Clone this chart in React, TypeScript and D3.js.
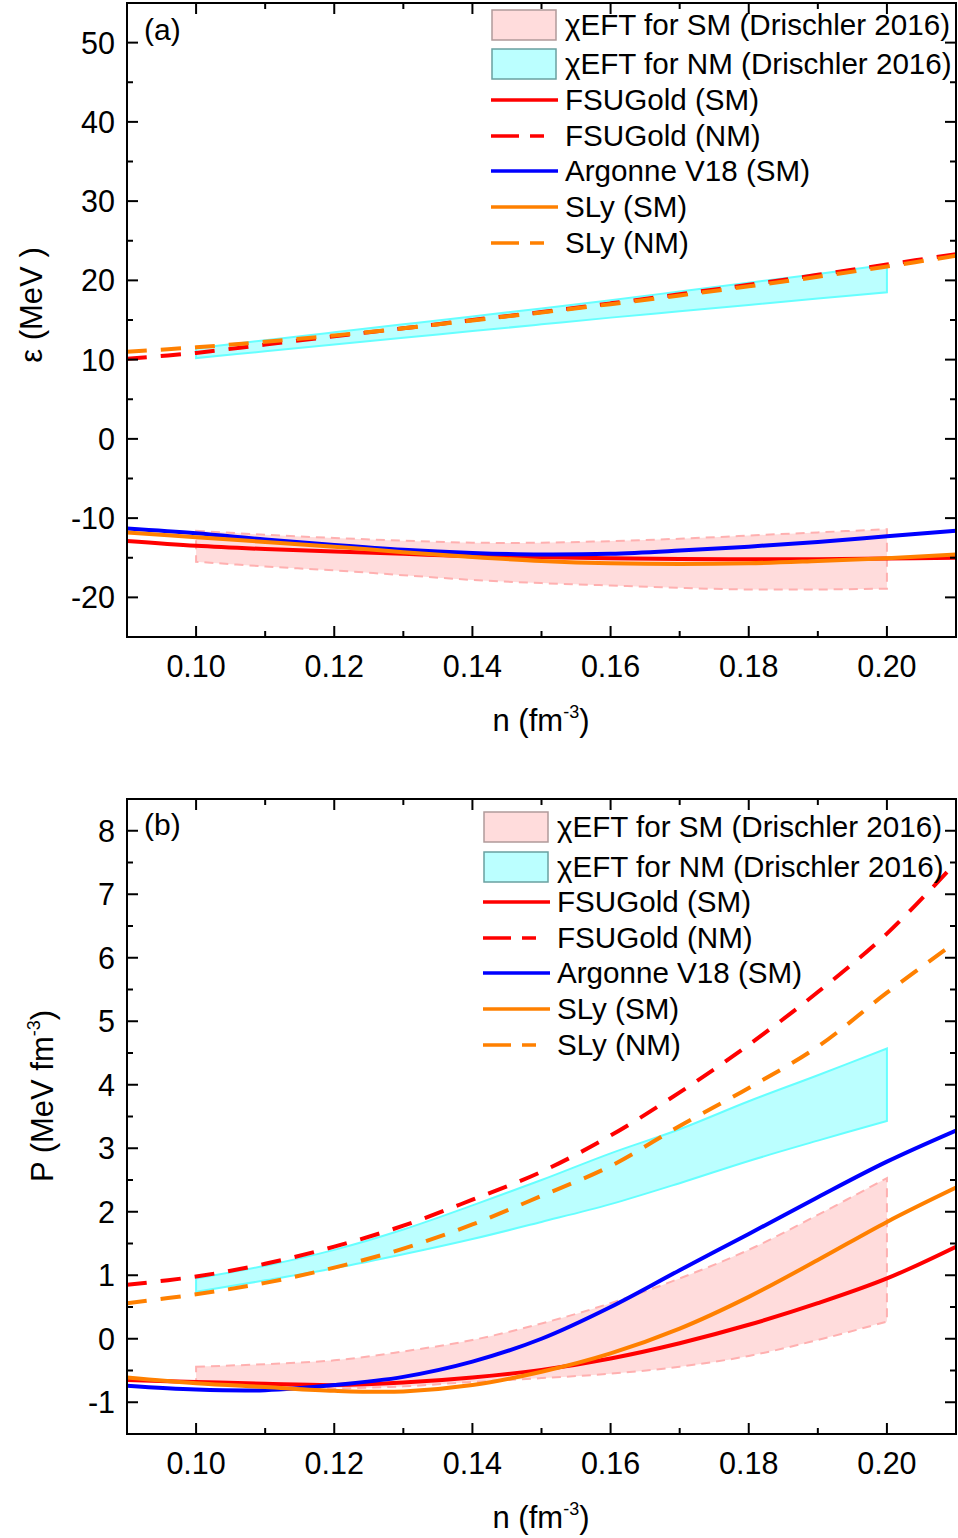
import React from 'react';
import * as d3 from 'd3';

// ---------- data ----------
const density = [0.09, 0.10, 0.11, 0.12, 0.13, 0.14, 0.15, 0.16, 0.17, 0.18, 0.19, 0.20, 0.21];
const bandDensity = [0.10, 0.11, 0.12, 0.13, 0.14, 0.15, 0.16, 0.17, 0.18, 0.19, 0.20];

// panel (a): energy per particle (MeV)
const eFsuSM = [-12.9, -13.5, -13.9, -14.2, -14.5, -14.8, -14.95, -15.05, -15.15, -15.2, -15.2, -15.1, -15.0];
const eFsuNM = [10.1, 10.85, 11.9, 12.95, 13.95, 15.0, 16.0, 17.1, 18.25, 19.45, 20.7, 22.0, 23.3];
const eAv18SM = [-11.3, -11.9, -12.7, -13.4, -14.0, -14.4, -14.6, -14.5, -14.1, -13.6, -13.0, -12.3, -11.6];
const eSlySM = [-11.8, -12.4, -13.0, -13.6, -14.3, -14.9, -15.4, -15.7, -15.8, -15.7, -15.4, -15.05, -14.6];
const eSlyNM = [11.0, 11.55, 12.25, 13.05, 13.95, 14.95, 15.95, 17.0, 18.1, 19.25, 20.45, 21.75, 23.1];
const eSMBandLo = [-15.5, -16.1, -16.6, -17.2, -17.8, -18.2, -18.5, -18.8, -19.0, -19.0, -18.9];
const eSMBandHi = [-11.6, -12.1, -12.5, -12.85, -13.1, -13.1, -12.9, -12.6, -12.2, -11.8, -11.4];
const eNMBandLo = [10.2, 11.05, 11.9, 12.75, 13.6, 14.45, 15.3, 16.1, 16.9, 17.7, 18.5];
const eNMBandHi = [11.45, 12.45, 13.45, 14.45, 15.45, 16.45, 17.5, 18.6, 19.7, 20.8, 22.0];

// panel (b): pressure (MeV fm^-3)
const pFsuSM = [-0.65, -0.68, -0.71, -0.73, -0.69, -0.61, -0.49, -0.31, -0.07, 0.22, 0.56, 0.95, 1.45];
const pFsuNM = [0.85, 0.98, 1.18, 1.45, 1.78, 2.19, 2.63, 3.2, 3.88, 4.63, 5.46, 6.38, 7.5];
const pAv18SM = [-0.74, -0.80, -0.81, -0.73, -0.60, -0.36, 0.0, 0.50, 1.08, 1.65, 2.23, 2.79, 3.28];
const pSlySM = [-0.61, -0.70, -0.76, -0.82, -0.83, -0.73, -0.52, -0.23, 0.16, 0.66, 1.24, 1.84, 2.38];
const pSlyNM = [0.56, 0.70, 0.88, 1.12, 1.42, 1.8, 2.25, 2.72, 3.35, 3.95, 4.6, 5.45, 6.25];
const pSMBandLo = [-0.68, -0.75, -0.78, -0.75, -0.68, -0.62, -0.55, -0.44, -0.27, -0.02, 0.27];
const pSMBandHi = [-0.44, -0.40, -0.34, -0.2, -0.02, 0.24, 0.56, 0.95, 1.40, 1.95, 2.53];
const pNMBandLo = [0.74, 0.92, 1.11, 1.33, 1.57, 1.84, 2.12, 2.45, 2.8, 3.12, 3.43];
const pNMBandHi = [0.95, 1.15, 1.40, 1.72, 2.1, 2.5, 2.92, 3.3, 3.74, 4.15, 4.57];

const xTicks = [0.10, 0.12, 0.14, 0.16, 0.18, 0.20];
const xMinorTicks = [0.11, 0.13, 0.15, 0.17, 0.19];
const eTicks = [-20, -10, 0, 10, 20, 30, 40, 50];
const eMinorTicks = [-15, -5, 5, 15, 25, 35, 45];
const pTicks = [-1, 0, 1, 2, 3, 4, 5, 6, 7, 8];
const pMinorTicks = [-0.5, 0.5, 1.5, 2.5, 3.5, 4.5, 5.5, 6.5, 7.5];

const legendLabels = [
  'χEFT for SM (Drischler 2016)',
  'χEFT for NM (Drischler 2016)',
  'FSUGold (SM)',
  'FSUGold (NM)',
  'Argonne V18 (SM)',
  'SLy (SM)',
  'SLy (NM)',
];

// ---------- styles ----------
const FONT = '"Liberation Sans", Arial, Helvetica, sans-serif';
const RED = '#ff0000';
const BLUE = '#0000ff';
const ORANGE = '#ff8000';
const PINK_FILL = '#ffdcdc';
const PINK_STROKE = '#ffb0b0';
const CYAN_FILL = '#bbffff';
const CYAN_STROKE = '#66ffff';
const DASH = '20,14';
const TICK_FS = 30.5;
const LEG_FS = 29.6;
const TITLE_FS = 31;

type Series = { values: number[]; color: string; dashed: boolean };

type PanelProps = {
  id: string;
  top: number;
  bottom: number;
  yDomain: [number, number];
  yTicks: number[];
  yMinor: number[];
  smLo: number[];
  smHi: number[];
  nmLo: number[];
  nmHi: number[];
  series: Series[];
  panelLabel: string;
  labelY: number;
  legendX: number;
  legendRows: number[];
  yTitle: React.ReactNode;
};

const LEFT = 127;
const RIGHT = 956;

function Panel(p: PanelProps) {
  const x = d3.scaleLinear().domain([0.09, 0.21]).range([LEFT, RIGHT]);
  const y = d3.scaleLinear().domain(p.yDomain).range([p.bottom, p.top]);
  const line = d3
    .line<[number, number]>()
    .x((d) => x(d[0]))
    .y((d) => y(d[1]))
    .curve(d3.curveCatmullRom);
  const area = d3
    .area<[number, number, number]>()
    .x((d) => x(d[0]))
    .y0((d) => y(d[1]))
    .y1((d) => y(d[2]))
    .curve(d3.curveCatmullRom);
  const smBand = bandDensity.map((n, i) => [n, p.smLo[i], p.smHi[i]] as [number, number, number]);
  const nmBand = bandDensity.map((n, i) => [n, p.nmLo[i], p.nmHi[i]] as [number, number, number]);
  const clipId = 'clip-' + p.id;
  const major = 11;
  const minor = 6;
  const lx = p.legendX;
  const tx = lx + 73;
  const rows = p.legendRows;
  return (
    <g>
      <defs>
        <clipPath id={clipId}>
          <rect x={LEFT} y={p.top} width={RIGHT - LEFT} height={p.bottom - p.top} />
        </clipPath>
      </defs>
      <g clipPath={`url(#${clipId})`}>
        <path d={area(smBand) || ''} fill={PINK_FILL} stroke={PINK_STROKE} strokeWidth={2} strokeDasharray="9,6" />
        <path d={area(nmBand) || ''} fill={CYAN_FILL} stroke={CYAN_STROKE} strokeWidth={2} />
        {p.series.map((s, i) => (
          <path
            key={i}
            d={line(density.map((n, j) => [n, s.values[j]] as [number, number])) || ''}
            fill="none"
            stroke={s.color}
            strokeWidth={4}
            strokeDasharray={s.dashed ? DASH : undefined}
          />
        ))}
      </g>
      {/* frame */}
      <rect x={LEFT} y={p.top} width={RIGHT - LEFT} height={p.bottom - p.top} fill="none" stroke="#000" strokeWidth={2} />
      {/* x ticks */}
      {xTicks.map((t) => (
        <g key={'xt' + t}>
          <line x1={x(t)} x2={x(t)} y1={p.bottom} y2={p.bottom - major} stroke="#000" strokeWidth={2} />
          <line x1={x(t)} x2={x(t)} y1={p.top} y2={p.top + major} stroke="#000" strokeWidth={2} />
          <text x={x(t)} y={p.bottom + 40} textAnchor="middle" fontSize={TICK_FS} fontFamily={FONT}>
            {d3.format('.2f')(t)}
          </text>
        </g>
      ))}
      {xMinorTicks.map((t) => (
        <g key={'xm' + t}>
          <line x1={x(t)} x2={x(t)} y1={p.bottom} y2={p.bottom - minor} stroke="#000" strokeWidth={2} />
          <line x1={x(t)} x2={x(t)} y1={p.top} y2={p.top + minor} stroke="#000" strokeWidth={2} />
        </g>
      ))}
      {/* y ticks */}
      {p.yTicks.map((t) => (
        <g key={'yt' + t}>
          <line x1={LEFT} x2={LEFT + major} y1={y(t)} y2={y(t)} stroke="#000" strokeWidth={2} />
          <line x1={RIGHT} x2={RIGHT - major} y1={y(t)} y2={y(t)} stroke="#000" strokeWidth={2} />
          <text x={115} y={y(t) + 11} textAnchor="end" fontSize={TICK_FS} fontFamily={FONT}>
            {String(t)}
          </text>
        </g>
      ))}
      {p.yMinor.map((t) => (
        <g key={'ym' + t}>
          <line x1={LEFT} x2={LEFT + minor} y1={y(t)} y2={y(t)} stroke="#000" strokeWidth={2} />
          <line x1={RIGHT} x2={RIGHT - minor} y1={y(t)} y2={y(t)} stroke="#000" strokeWidth={2} />
        </g>
      ))}
      {/* panel label */}
      <text x={144} y={p.labelY} fontSize={30} fontFamily={FONT}>
        {p.panelLabel}
      </text>
      {/* x title */}
      <text x={541} y={p.bottom + 94} textAnchor="middle" fontSize={TITLE_FS} fontFamily={FONT}>
        n (fm
        <tspan dy={-13} fontSize={18}>-3</tspan>
        <tspan dy={13}>)</tspan>
      </text>
      {p.yTitle}
      {/* legend */}
      <rect x={lx} y={rows[0] - 15} width={64} height={30} fill={PINK_FILL} stroke="#b09a9a" strokeWidth={1.5} />
      <rect x={lx} y={rows[1] - 15} width={64} height={30} fill={CYAN_FILL} stroke="#6aa0a0" strokeWidth={1.5} />
      {p.series.map((s, i) => (
        <line
          key={'lg' + i}
          x1={lx - 1}
          x2={s.dashed ? lx + 52 : lx + 66}
          y1={rows[i + 2]}
          y2={rows[i + 2]}
          stroke={s.color}
          strokeWidth={3.5}
          strokeDasharray={s.dashed ? '28,11' : undefined}
        />
      ))}
      {legendLabels.map((lab, i) => (
        <text key={'lt' + i} x={tx} y={rows[i] + 10} fontSize={LEG_FS} fontFamily={FONT}>
          {lab}
        </text>
      ))}
    </g>
  );
}

export default function App() {
  const seriesA: Series[] = [
    { values: eFsuSM, color: RED, dashed: false },
    { values: eFsuNM, color: RED, dashed: true },
    { values: eAv18SM, color: BLUE, dashed: false },
    { values: eSlySM, color: ORANGE, dashed: false },
    { values: eSlyNM, color: ORANGE, dashed: true },
  ];
  const seriesB: Series[] = [
    { values: pFsuSM, color: RED, dashed: false },
    { values: pFsuNM, color: RED, dashed: true },
    { values: pAv18SM, color: BLUE, dashed: false },
    { values: pSlySM, color: ORANGE, dashed: false },
    { values: pSlyNM, color: ORANGE, dashed: true },
  ];
  return (
    <svg
      width={958}
      height={1538}
      viewBox="0 0 958 1538"
      style={{ position: 'absolute', left: 0, top: 0, display: 'block', background: '#fff' }}
    >
      <rect x={0} y={0} width={958} height={1538} fill="#fff" />
      <Panel
        id="a"
        top={3}
        bottom={637}
        yDomain={[-25, 55]}
        yTicks={eTicks}
        yMinor={eMinorTicks}
        smLo={eSMBandLo}
        smHi={eSMBandHi}
        nmLo={eNMBandLo}
        nmHi={eNMBandHi}
        series={seriesA}
        panelLabel="(a)"
        labelY={40}
        legendX={492}
        legendRows={[25, 64, 100, 136, 171, 207, 243]}
        yTitle={
          <text transform="translate(42,305) rotate(-90)" textAnchor="middle" fontSize={TITLE_FS} fontFamily={FONT}>
            ε (MeV )
          </text>
        }
      />
      <Panel
        id="b"
        top={799}
        bottom={1434}
        yDomain={[-1.5, 8.5]}
        yTicks={pTicks}
        yMinor={pMinorTicks}
        smLo={pSMBandLo}
        smHi={pSMBandHi}
        nmLo={pNMBandLo}
        nmHi={pNMBandHi}
        series={seriesB}
        panelLabel="(b)"
        labelY={835}
        legendX={484}
        legendRows={[827, 867, 902, 938, 973, 1009, 1045]}
        yTitle={
          <text transform="translate(53,1096) rotate(-90)" textAnchor="middle" fontSize={TITLE_FS} fontFamily={FONT}>
            P (MeV fm
            <tspan dy={-13} fontSize={18}>-3</tspan>
            <tspan dy={13}>)</tspan>
          </text>
        }
      />
    </svg>
  );
}
